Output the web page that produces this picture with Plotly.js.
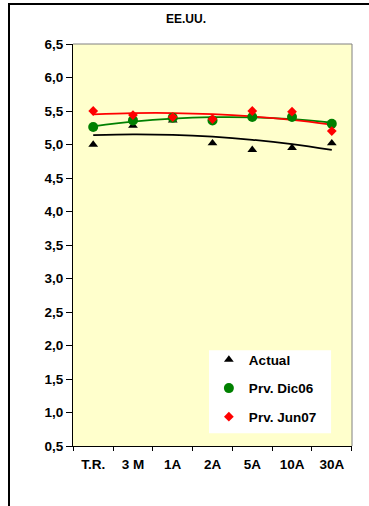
<!DOCTYPE html>
<html>
<head>
<meta charset="utf-8">
<script src="https://cdn.plot.ly/plotly-3.0.1.min.js"></script>
<style>
  html, body { margin: 0; padding: 0; overflow: hidden; background: #fff; }
  #chart { position: absolute; left: 0; top: 0; width: 369px; height: 506px; }
  #frame { position: absolute; left: 8px; top: 3px; width: 400px; height: 560px;
           border: 2px solid #000; pointer-events: none; }
</style>
</head>
<body>
<div id="chart"></div>
<div id="frame"></div>
<script>
// Maturities on the curve
const plazos = ['T.R.', '3 M', '1A', '2A', '5A', '10A', '30A'];
// Current rates
const actual = [5.00, 5.28, 5.36, 5.02, 4.92, 4.95, 5.02];
// December 2006 forecast
const prvDic06 = [5.26, 5.36, 5.40, 5.36, 5.41, 5.41, 5.31];
// June 2007 forecast
const prvJun07 = [5.50, 5.44, 5.41, 5.38, 5.50, 5.49, 5.20];
// y-axis ticks
const yTicks = [0.5, 1.0, 1.5, 2.0, 2.5, 3.0, 3.5, 4.0, 4.5, 5.0, 5.5, 6.0, 6.5];

// Second-order polynomial trend (least squares, x = 1..n), as in a spreadsheet trendline
function polyTrend(ys) {
  const n = ys.length;
  const xs = ys.map((_, i) => i + 1);
  let s = [0, 0, 0, 0, 0], t = [0, 0, 0];
  for (let i = 0; i < n; i++) {
    const x = xs[i], y = ys[i];
    for (let k = 0; k < 5; k++) s[k] += Math.pow(x, k);
    for (let k = 0; k < 3; k++) t[k] += Math.pow(x, k) * y;
  }
  // Normal equations: [[s0 s1 s2],[s1 s2 s3],[s2 s3 s4]] * [a b c] = t
  const M = [[s[0], s[1], s[2], t[0]], [s[1], s[2], s[3], t[1]], [s[2], s[3], s[4], t[2]]];
  for (let c = 0; c < 3; c++) {
    for (let r = c + 1; r < 3; r++) {
      const f = M[r][c] / M[c][c];
      for (let k = c; k < 4; k++) M[r][k] -= f * M[c][k];
    }
  }
  const coef = [0, 0, 0];
  for (let r = 2; r >= 0; r--) {
    let v = M[r][3];
    for (let k = r + 1; k < 3; k++) v -= M[r][k] * coef[k];
    coef[r] = v / M[r][r];
  }
  return xs.map(x => coef[0] + coef[1] * x + coef[2] * x * x);
}

const FONT = "'Liberation Sans', Arial, sans-serif";
const series = [
  { name: 'Actual', y: actual, color: '#000000', symbol: 'triangle-up', size: 8.5 },
  { name: 'Prv. Dic06', y: prvDic06, color: '#008000', symbol: 'circle', size: 10 },
  { name: 'Prv. Jun07', y: prvJun07, color: '#FF0000', symbol: 'diamond', size: 7.5 }
];

const traces = [];
series.forEach(s => {
  traces.push({
    x: plazos, y: polyTrend(s.y), type: 'scatter', mode: 'lines',
    line: { color: s.color, width: 1.75, shape: 'spline' },
    showlegend: false, hoverinfo: 'skip'
  });
});
series.forEach((s, i) => {
  traces.push({
    x: plazos, y: s.y, type: 'scatter', mode: 'markers', name: s.name,
    legendgroup: 'g' + i,
    marker: { color: s.color, symbol: s.symbol, size: s.size, line: { width: 0 } }
  });
});

const layout = {
  width: 369, height: 506,
  margin: { l: 73, r: 17, t: 44, b: 60 },
  paper_bgcolor: '#ffffff',
  plot_bgcolor: '#FFFFCC',
  separators: ',.',
  font: { family: FONT, color: '#000', size: 13.5, weight: 'bold' },
  title: {
    text: 'EE.UU.', font: { family: FONT, size: 12, weight: 'bold', color: '#000' },
    xref: 'container', x: 0.504, xanchor: 'center',
    yref: 'container', y: 0.962, yanchor: 'middle'
  },
  xaxis: {
    type: 'category', tickson: 'boundaries',
    ticks: 'outside', ticklen: 4, tickcolor: '#000', tickwidth: 1,
    ticklabelstandoff: 6,
    showline: true, linecolor: '#000', linewidth: 1,
    showgrid: false, zeroline: false, fixedrange: true,
    tickfont: { family: FONT, size: 13.5, weight: 'bold', color: '#000' }
  },
  yaxis: {
    range: [0.5, 6.5], tickvals: yTicks, tickformat: '.1f',
    ticks: 'outside', ticklen: 6, tickcolor: '#000', tickwidth: 1,
    showline: true, linecolor: '#000', linewidth: 1,
    showgrid: false, zeroline: false, fixedrange: true,
    tickfont: { family: FONT, size: 13.5, weight: 'bold', color: '#000' }
  },
  shapes: [
    // plot-area frame, top and right sides
    { type: 'line', xref: 'paper', yref: 'paper', x0: 0, x1: 1, y0: 1, y1: 1,
      line: { color: '#808080', width: 1 } },
    { type: 'line', xref: 'paper', yref: 'paper', x0: 1, x1: 1, y0: 0, y1: 1,
      line: { color: '#808080', width: 1 } },
    // white legend panel
    { type: 'rect', xref: 'paper', yref: 'paper', x0: 0.4875, x1: 0.925, y0: 0.0316, y1: 0.238,
      fillcolor: '#ffffff', line: { width: 0 }, layer: 'below' }
  ],
  legend: {
    x: 0.487, xanchor: 'left', y: 0.253, yanchor: 'top',
    bgcolor: 'rgba(0,0,0,0)', borderwidth: 0,
    tracegroupgap: 8,
    font: { family: FONT, size: 13.5, weight: 'bold', color: '#000' }
  },
  showlegend: true
};

Plotly.newPlot('chart', traces, layout, { displayModeBar: false, staticPlot: true });
</script>
</body>
</html>
